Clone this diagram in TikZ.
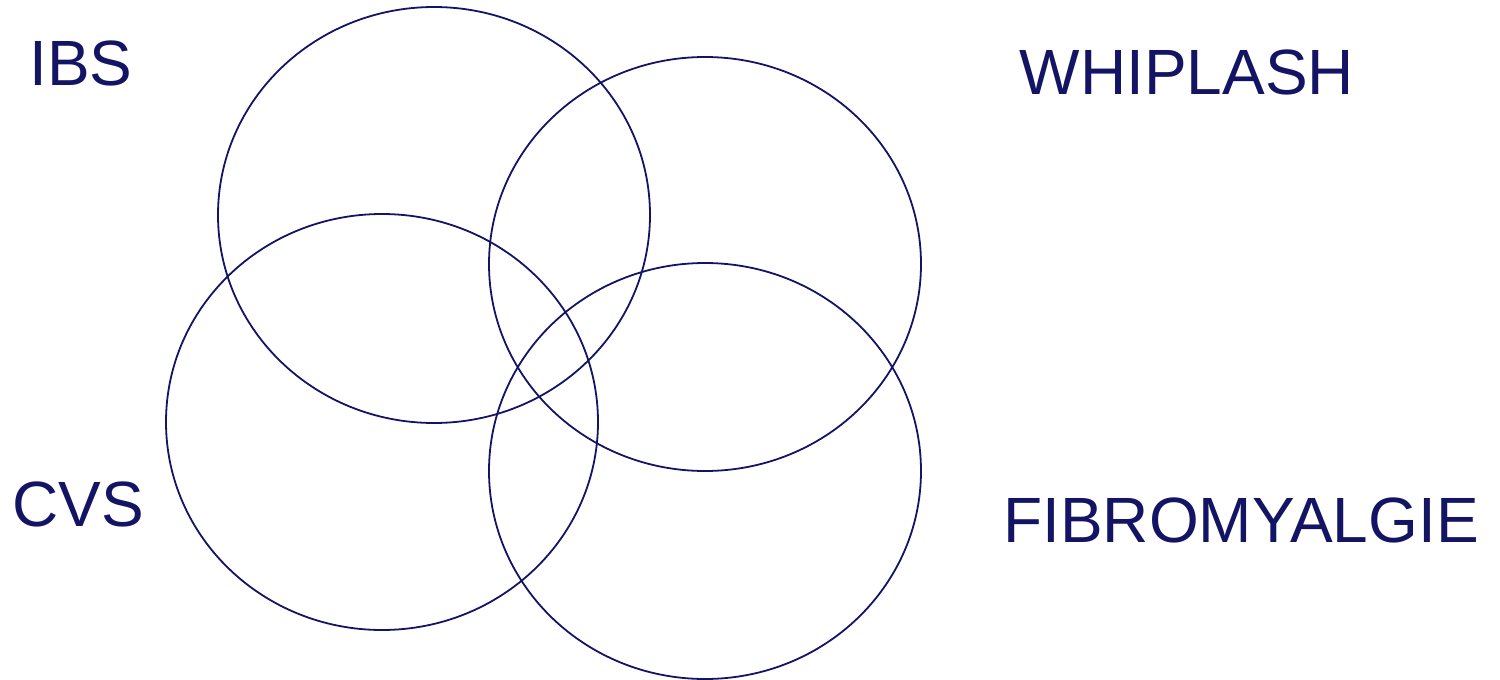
\documentclass[tikz,border=0pt]{standalone}
\usepackage{fontspec}
\setmainfont{Liberation Sans}
\definecolor{navy}{HTML}{141464}
\begin{document}
\begin{tikzpicture}[x=1pt,y=-1pt,
  ring/.style={draw=navy,line width=1.8pt},
  lbl/.style={text=navy,inner sep=0pt,font=\fontsize{64}{64}\selectfont}]
\useasboundingbox (0,0) rectangle (1500,680);
\draw[ring] (434,215) ellipse [x radius=216, y radius=208];
\draw[ring] (705,264) ellipse [x radius=216, y radius=207];
\draw[ring] (382,422) ellipse [x radius=216, y radius=208];
\draw[ring] (705,471) ellipse [x radius=216, y radius=208];
\node[lbl] (ibs) at (81,63) {IBS};
\node[lbl] (whip) at (1187,72) {WHIPLASH};
\node[lbl] (cvs) at (78,504) {CVS};
\node[lbl] (fibro) at (1241,520) {FIBROMYALGIE};
\end{tikzpicture}
\end{document}
